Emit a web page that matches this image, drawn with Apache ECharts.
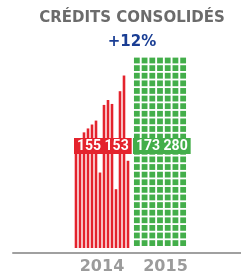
<!DOCTYPE html>
<html>
<head>
<meta charset="utf-8">
<script src="https://cdn.jsdelivr.net/npm/echarts@6/dist/echarts.min.js"></script>
<style>
  html, body { margin: 0; padding: 0; background: #fff; }
  #chart { width: 241px; height: 280px; }
</style>
</head>
<body>
<div id="chart"></div>
<script>
const years = ['2014', '2015'];
const totals = ['155 153', '173 280'];
const growth = '+12%';

// 2014 : barres fines (hauteurs relatives)
const bars2014 = ['1', '2', '3', '4', '5', '6', '7', '8', '9', '10', '11', '12', '13', '14'];
const values2014 = [100, 111, 118, 122, 126, 130, 77, 146, 151, 147, 60, 160, 176, 89];

// 2015 : bloc de carrés, 7 colonnes
const columns2015 = ['c1', 'c2', 'c3', 'c4', 'c5', 'c6', 'c7'];
const values2015 = [190, 190, 190, 190, 190, 190, 190];

const red = '#e4232d';
const green = '#43ae4a';
const font = 'DejaVu Sans';

const chart = echarts.init(document.getElementById('chart'));

const hiddenY = (gridIndex) => ({
  type: 'value',
  gridIndex: gridIndex,
  min: 0,
  max: 200,
  show: false
});

const yearAxis = (gridIndex, data, name, nameGap, padding) => ({
  type: 'category',
  gridIndex: gridIndex,
  data: data,
  name: name,
  nameLocation: 'middle',
  nameGap: nameGap,
  nameTextStyle: {
    color: '#9b9b9b',
    fontFamily: font,
    fontWeight: 'bold',
    fontSize: 16,
    padding: padding
  },
  axisLine: { show: false },
  axisTick: { show: false },
  axisLabel: { show: false }
});

chart.setOption({
  animation: false,
  title: [
    {
      text: 'CRÉDITS CONSOLIDÉS',
      left: 132,
      top: 11,
      textAlign: 'center',
      padding: 0,
      textStyle: { color: '#6b6b6b', fontFamily: font, fontWeight: 'bold', fontSize: 15 }
    },
    {
      text: growth,
      left: 132,
      top: 35,
      textAlign: 'center',
      padding: 0,
      textStyle: { color: '#1a3e94', fontFamily: font, fontWeight: 'bold', fontSize: 15 }
    },
    {
      text: totals[0],
      left: 74,
      top: 138,
      padding: [1, 3],
      backgroundColor: red,
      textStyle: { color: '#fff', fontFamily: 'Roboto', fontWeight: 'bold', fontSize: 14 }
    },
    {
      text: totals[1],
      left: 133,
      top: 138,
      padding: [1, 3],
      backgroundColor: green,
      textStyle: { color: '#fff', fontFamily: 'Roboto', fontWeight: 'bold', fontSize: 14 }
    }
  ],
  grid: [
    { left: 74, width: 56, top: 52, bottom: 28 },
    { left: 133, width: 54, top: 50, bottom: 30 },
    { left: 13, right: 0, top: 52, bottom: 27 }
  ],
  xAxis: [
    yearAxis(0, bars2014, years[0], 11, [0, 0, 0, 0]),
    yearAxis(1, columns2015, years[1], 13, [0, 0, 0, 11]),
    {
      type: 'value',
      gridIndex: 2,
      min: 0,
      max: 1,
      axisLine: { show: true, lineStyle: { color: '#a0a0a0', width: 2 } },
      axisTick: { show: false },
      axisLabel: { show: false },
      splitLine: { show: false }
    }
  ],
  yAxis: [hiddenY(0), hiddenY(1), hiddenY(2)],
  series: [
    {
      name: years[0],
      type: 'bar',
      xAxisIndex: 0,
      yAxisIndex: 0,
      data: values2014,
      barWidth: 2.6,
      itemStyle: { color: red }
    },
    {
      name: years[1],
      type: 'pictorialBar',
      xAxisIndex: 1,
      yAxisIndex: 1,
      data: values2015,
      symbol: 'rect',
      symbolRepeat: true,
      symbolSize: [5.8, 5.8],
      symbolMargin: 1,
      itemStyle: { color: green }
    }
  ]
});
</script>
</body>
</html>
